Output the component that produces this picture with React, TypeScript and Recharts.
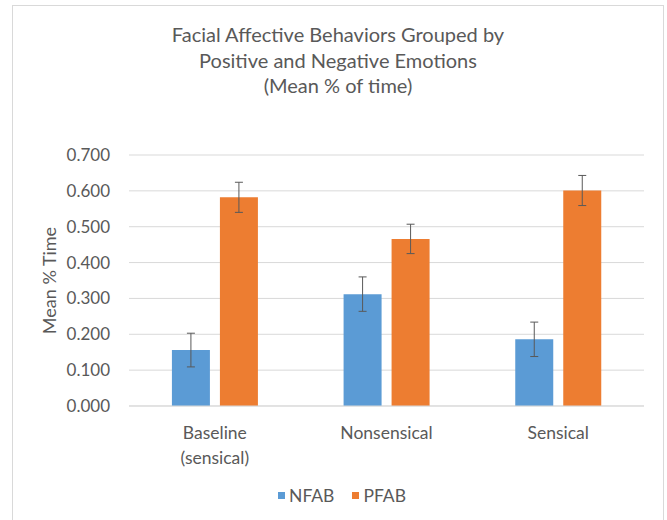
import React from "react";
import { BarChart, Bar, XAxis, YAxis, CartesianGrid, Legend, ErrorBar } from "recharts";

const categories = ["Baseline\n(sensical)", "Nonsensical", "Sensical"];
const nfab = [0.156, 0.312, 0.186];
const pfab = [0.582, 0.466, 0.601];
const nfabErr = [0.047, 0.048, 0.048];
const pfabErr = [0.042, 0.041, 0.042];
const yTicks = [0, 0.1, 0.2, 0.3, 0.4, 0.5, 0.6, 0.7];

const titleLines = [
  "Facial Affective Behaviors Grouped by",
  "Positive and Negative Emotions",
  "(Mean % of time)",
];

const FONT = "Lato, 'Open Sans', sans-serif";
const TEXT = "#595959";
const BLUE = "#5b9bd5";
const ORANGE = "#ed7d31";

const data = categories.map((c, i) => ({
  name: c,
  NFAB: nfab[i],
  PFAB: pfab[i],
  nfabErr: nfabErr[i],
  pfabErr: pfabErr[i],
}));

const CategoryTick = ({ x, y, payload }: any) => {
  const lines = String(payload.value).split("\n");
  return (
    <text x={x} y={y + 31} textAnchor="middle" fill={TEXT} fontSize={17.5} fontFamily={FONT}>
      {lines.map((l, i) => (
        <tspan key={i} x={x} dy={i === 0 ? 0 : 25}>{l}</tspan>
      ))}
    </text>
  );
};

const LegendBox = ({ payload }: any) => (
  <div style={{ display: "flex", justifyContent: "center", gap: 18, height: 24, alignItems: "center", fontFamily: FONT, fontSize: 17.5, color: TEXT }}>
    {(payload ?? []).map((p: any) => (
      <div key={p.value} style={{ display: "flex", alignItems: "center", gap: 4 }}>
        <span style={{ display: "inline-block", width: 7, height: 7, background: p.color }} />
        {p.value}
      </div>
    ))}
  </div>
);

export default function App() {
  return (
    <div style={{ position: "absolute", left: 0, top: 0, width: 667, height: 520, background: "#fff", fontFamily: FONT, overflow: "hidden" }}>
      {/* chart frame */}
      <div style={{ position: "absolute", left: 12, top: 5, width: 652, height: 530, border: "1px solid #d9d9d9", boxSizing: "border-box" }} />
      <div style={{ position: "absolute", left: 12, width: 652, top: 22, textAlign: "center", color: TEXT, fontSize: 20, lineHeight: "25.5px" }}>
        {titleLines.map(t => <div key={t}>{t}</div>)}
      </div>
      <div style={{ position: "absolute", left: 0, top: 0 }}>
        <BarChart
          width={667}
          height={520}
          data={data}
          margin={{ top: 155, right: 23, bottom: 30, left: 0 }}
          barCategoryGap="25%"
          barGap={10}
        >
          <CartesianGrid vertical={false} stroke="#d9d9d9" />
          <XAxis
            dataKey="name"
            height={60}
            tickLine={false}
            axisLine={{ stroke: "#d9d9d9" }}
            tickSize={0}
            tick={<CategoryTick />}
            interval={0}
          />
          <YAxis
            width={129}
            domain={[0, 0.7]}
            ticks={yTicks}
            tickFormatter={(v: number) => v.toFixed(3)}
            axisLine={false}
            tickLine={false}
            tickSize={0}
            tickMargin={19}
            tick={{ fill: TEXT, fontSize: 17, fontFamily: FONT }}
            label={{
              content: ({ viewBox }: any) => {
                const cy = viewBox.y + viewBox.height / 2;
                return (
                  <text x={49} y={cy} transform={`rotate(-90, 49, ${cy})`} textAnchor="middle" dominantBaseline="central" fill={TEXT} fontSize={18} fontFamily={FONT}>
                    Mean % Time
                  </text>
                );
              },
            }}
          />
          <Legend content={<LegendBox />} wrapperStyle={{ left: 20, width: 644, top: 483 }} />
          <Bar dataKey="NFAB" fill={BLUE} isAnimationActive={false}>
            <ErrorBar dataKey="nfabErr" width={4} stroke={TEXT} strokeWidth={1} direction="y" />
          </Bar>
          <Bar dataKey="PFAB" fill={ORANGE} isAnimationActive={false}>
            <ErrorBar dataKey="pfabErr" width={4} stroke={TEXT} strokeWidth={1} direction="y" />
          </Bar>
        </BarChart>
      </div>
    </div>
  );
}
